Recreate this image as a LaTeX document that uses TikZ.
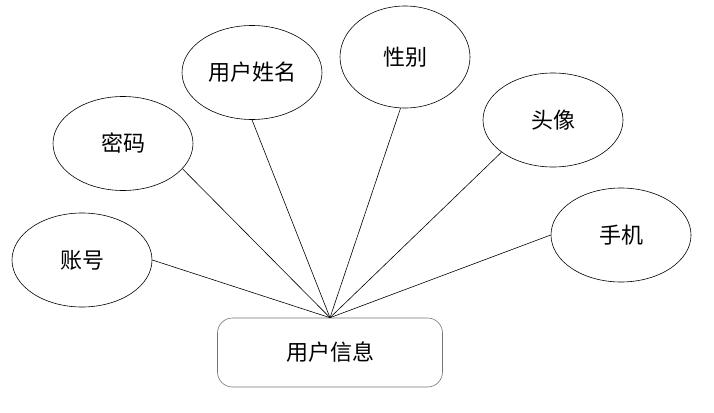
\documentclass[tikz,border=0pt]{standalone}
\usepackage{fontspec}
\newfontfamily\cjk{Noto Sans CJK SC}
\usetikzlibrary{shapes.geometric}

\begin{document}
\begin{tikzpicture}[
	x=1pt, y=-1pt,
	attr/.style={
		ellipse,
		draw,
		line width=0.6pt,
		minimum width=140pt,
		minimum height=94pt,
		inner sep=0pt,
		font=\cjk\fontsize{22}{22}\selectfont
	},
	entity/.style={
		rectangle,
		draw=black!55,
		rounded corners=15pt,
		minimum width=225pt,
		minimum height=69pt,
		line width=0.6pt,
		font=\cjk\fontsize{22}{22}\selectfont
	},
	link/.style={
		line width=0.6pt
	}
	]
	\useasboundingbox (0,0) rectangle (714,412);
	
	% Entity: user information
	\node[entity] (user) at (330,352.5) {用户信息};
	\coordinate (hub) at (user.north);
	
	% Attributes
	\node[attr] (account) at (82,260) {账号};
	\node[attr] (password) at (123,143.5) {密码};
	\node[attr] (name) at (252,72.5) {用户姓名};
	\node[attr, minimum width=130pt, minimum height=102pt] (gender) at (405,57) {性别};
	\node[attr] (avatar) at (553,120) {头像};
	\node[attr] (phone) at (621,235) {手机};
	
	% Links from each attribute to the entity
	\foreach \a in {account.east,password.-23,name.south,gender.-95,avatar.-148,phone.west}
		\draw[link] (\a) -- (hub);
	
\end{tikzpicture}
\end{document}
